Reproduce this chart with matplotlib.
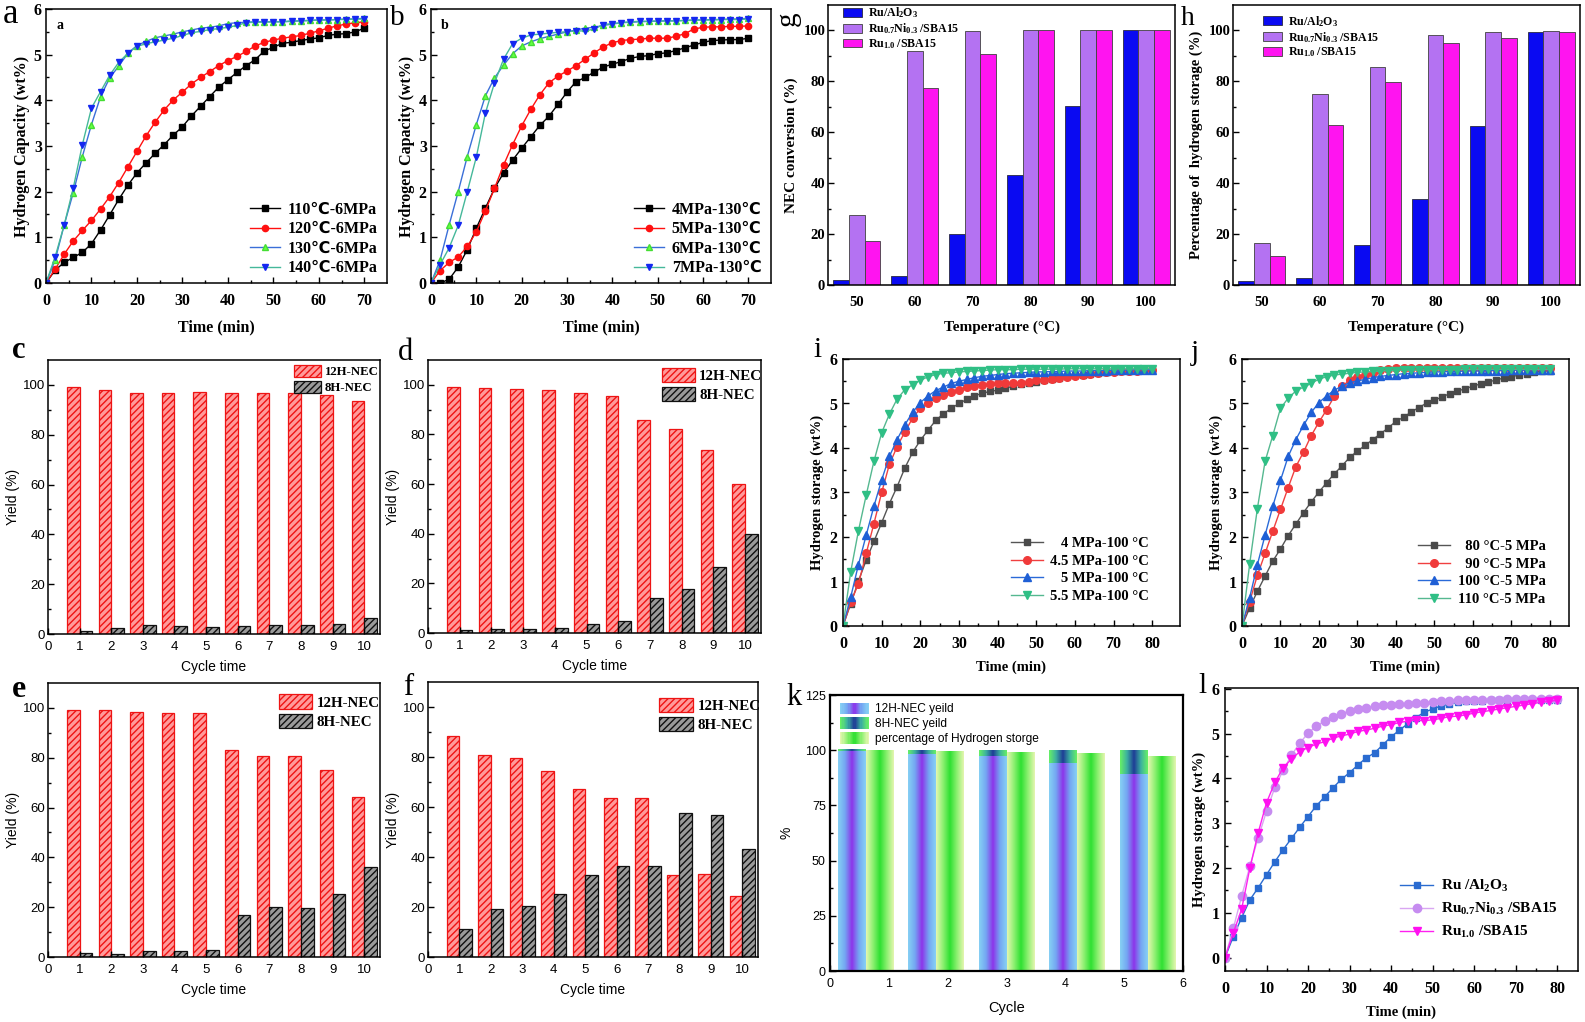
import numpy as np
import matplotlib
matplotlib.use('Agg')
import matplotlib.pyplot as plt
from matplotlib.patches import Patch, Rectangle
from matplotlib.legend_handler import HandlerBase
from matplotlib.colors import LinearSegmentedColormap

plt.rcParams['mathtext.fontset'] = 'custom'
plt.rcParams['mathtext.rm'] = 'Liberation Serif:bold'
plt.rcParams['mathtext.it'] = 'Liberation Serif:bold'
plt.rcParams['mathtext.bf'] = 'Liberation Serif:bold'
plt.rcParams['hatch.linewidth'] = 1.0

SERIF = ['Liberation Serif', 'DejaVu Sans']
SANS = ['Liberation Sans', 'DejaVu Sans']

# ---------------- data ----------------
t70 = np.arange(0, 72, 2)
t80 = np.arange(0, 82, 2)

a_labels = ['110\u2103-6MPa', '120\u2103-6MPa', '130\u2103-6MPa', '140\u2103-6MPa']
a_110 = [0, 0.28, 0.45, 0.56, 0.67, 0.86, 1.16, 1.49, 1.83, 2.14, 2.41, 2.63, 2.84, 3.03, 3.24, 3.42, 3.66, 3.87,
         4.08, 4.29, 4.45, 4.61, 4.76, 4.89, 5.08, 5.16, 5.25, 5.27, 5.31, 5.34, 5.37, 5.42, 5.45, 5.46, 5.5, 5.58]
a_120 = [0, 0.3, 0.63, 0.92, 1.15, 1.37, 1.62, 1.89, 2.2, 2.54, 2.88, 3.22, 3.52, 3.79, 4.01, 4.18, 4.36, 4.5,
         4.63, 4.76, 4.87, 4.96, 5.07, 5.19, 5.27, 5.32, 5.36, 5.39, 5.42, 5.47, 5.52, 5.58, 5.63, 5.67, 5.7, 5.72]
a_130 = [0, 0.5, 1.27, 1.98, 2.77, 3.47, 4.08, 4.49, 4.75, 5.03, 5.2, 5.29, 5.37, 5.41, 5.45, 5.5, 5.54, 5.58,
         5.6, 5.63, 5.68, 5.7, 5.71, 5.72, 5.72, 5.72, 5.72, 5.73, 5.74, 5.75, 5.76, 5.76, 5.77, 5.78, 5.78, 5.8]
a_140 = [0, 0.57, 1.27, 2.08, 3.03, 3.83, 4.19, 4.55, 4.83, 5.03, 5.18, 5.24, 5.28, 5.32, 5.36, 5.42, 5.48, 5.51,
         5.55, 5.57, 5.6, 5.64, 5.7, 5.71, 5.71, 5.72, 5.72, 5.74, 5.74, 5.75, 5.76, 5.76, 5.77, 5.77, 5.78, 5.78]

b_labels = ['4MPa-130\u2103', '5MPa-130\u2103', '6MPa-130\u2103', '7MPa-130\u2103']
b_4 = [0, 0.0, 0.08, 0.35, 0.73, 1.2, 1.64, 2.07, 2.41, 2.69, 2.95, 3.2, 3.45, 3.65, 3.91, 4.18, 4.41, 4.5,
       4.62, 4.73, 4.79, 4.85, 4.92, 4.96, 4.98, 5.02, 5.04, 5.09, 5.15, 5.21, 5.27, 5.31, 5.32, 5.33, 5.33, 5.36]
b_5 = [0, 0.27, 0.45, 0.57, 0.8, 1.12, 1.58, 2.07, 2.58, 3.03, 3.44, 3.8, 4.12, 4.38, 4.53, 4.64, 4.76, 4.9,
       5.04, 5.17, 5.26, 5.31, 5.33, 5.34, 5.36, 5.36, 5.36, 5.4, 5.46, 5.56, 5.6, 5.61, 5.61, 5.62, 5.62, 5.63]
b_6 = [0, 0.5, 1.27, 2.0, 2.77, 3.47, 4.1, 4.49, 4.77, 5.02, 5.19, 5.28, 5.35, 5.4, 5.45, 5.5, 5.54, 5.58,
       5.6, 5.64, 5.67, 5.7, 5.71, 5.72, 5.73, 5.73, 5.74, 5.74, 5.75, 5.76, 5.76, 5.77, 5.77, 5.78, 5.78, 5.8]
b_7 = [0, 0.4, 0.77, 1.26, 2.0, 2.76, 3.72, 4.38, 4.9, 5.24, 5.36, 5.43, 5.45, 5.47, 5.49, 5.5, 5.52, 5.52,
       5.56, 5.66, 5.68, 5.7, 5.72, 5.73, 5.73, 5.74, 5.74, 5.74, 5.75, 5.75, 5.76, 5.76, 5.77, 5.77, 5.77, 5.78]

temps = [50, 60, 70, 80, 90, 100]
cat_labels = ['Ru/Al$_{2}$O$_{3}$', 'Ru$_{0.7}$Ni$_{0.3}$ /SBA15', 'Ru$_{1.0}$ /SBA15']
g_al = [1.8, 3.7, 20.0, 43.4, 70.2, 100.0]
g_runi = [27.6, 91.9, 99.6, 100.0, 100.0, 100.0]
g_ru = [17.4, 77.4, 90.7, 100.0, 100.0, 100.0]
h_al = [1.6, 2.9, 15.7, 33.7, 62.4, 99.2]
h_runi = [16.6, 75.2, 85.6, 98.4, 99.3, 99.6]
h_ru = [11.4, 62.8, 79.8, 95.0, 97.2, 99.2]

cycles = np.arange(1, 11)
c_12h = [99.1, 97.9, 96.7, 96.9, 97.3, 96.9, 96.7, 96.7, 95.9, 93.6]
c_8h = [1.3, 2.4, 3.5, 3.2, 2.7, 3.1, 3.6, 3.5, 4.1, 6.6]
d_12h = [99.1, 98.9, 98.5, 97.9, 96.8, 95.3, 86.0, 82.3, 73.6, 60.1]
d_8h = [1.3, 1.5, 1.7, 2.1, 3.5, 5.0, 14.1, 17.7, 26.7, 39.9]
e_12h = [99.1, 99.2, 98.3, 98.1, 98.0, 83.3, 80.6, 80.6, 75.0, 64.3]
e_8h = [1.5, 1.3, 2.3, 2.5, 2.7, 17.0, 19.9, 19.8, 25.4, 36.1]
f_12h = [88.6, 81.0, 79.8, 74.6, 67.2, 63.8, 63.6, 32.9, 33.4, 24.5]
f_8h = [11.4, 19.1, 20.3, 25.4, 32.8, 36.4, 36.6, 57.8, 57.0, 43.2]

i_labels = ['   4 MPa-100 \u00b0C', '4.5 MPa-100 \u00b0C', '   5 MPa-100 \u00b0C', '5.5 MPa-100 \u00b0C']
i_40 = [0, 0.5, 1.01, 1.48, 1.9, 2.32, 2.75, 3.13, 3.55, 3.9, 4.17, 4.4, 4.62, 4.77, 4.89, 5.0, 5.09, 5.17, 5.23,
        5.27, 5.3, 5.34, 5.39, 5.43, 5.46, 5.49, 5.52, 5.55, 5.58, 5.61, 5.63, 5.65, 5.67, 5.69, 5.7, 5.72, 5.73,
        5.74, 5.75, 5.76, 5.77]
i_45 = [0, 0.53, 0.95, 1.63, 2.3, 3.0, 3.63, 4.03, 4.36, 4.67, 4.89, 5.01, 5.12, 5.18, 5.26, 5.31, 5.36, 5.4, 5.42,
        5.44, 5.45, 5.46, 5.47, 5.47, 5.48, 5.52, 5.53, 5.54, 5.57, 5.59, 5.61, 5.63, 5.66, 5.68, 5.7, 5.71, 5.72,
        5.72, 5.74, 5.75, 5.76]
i_50 = [0, 0.65, 1.38, 2.04, 2.69, 3.28, 3.81, 4.19, 4.52, 4.8, 5.02, 5.17, 5.29, 5.37, 5.45, 5.5, 5.54, 5.58, 5.61,
        5.63, 5.65, 5.67, 5.68, 5.69, 5.7, 5.71, 5.71, 5.72, 5.72, 5.73, 5.73, 5.73, 5.74, 5.74, 5.74, 5.75, 5.75,
        5.75, 5.76, 5.76, 5.76]
i_55 = [0, 1.22, 2.14, 2.94, 3.7, 4.34, 4.76, 5.1, 5.31, 5.42, 5.52, 5.6, 5.65, 5.68, 5.69, 5.71, 5.72, 5.73, 5.74,
        5.75, 5.76, 5.76, 5.76, 5.77, 5.77, 5.77, 5.77, 5.77, 5.77, 5.78, 5.78, 5.78, 5.78, 5.78, 5.78, 5.78, 5.78,
        5.78, 5.78, 5.78, 5.78]

j_labels = ['  80 \u00b0C-5 MPa', '  90 \u00b0C-5 MPa', '100 \u00b0C-5 MPa', '110 \u00b0C-5 MPa']
j_80 = [0, 0.41, 0.78, 1.12, 1.46, 1.73, 2.03, 2.29, 2.55, 2.79, 3.01, 3.22, 3.42, 3.6, 3.79, 3.93, 4.06, 4.19,
        4.32, 4.45, 4.6, 4.69, 4.81, 4.91, 5.01, 5.07, 5.15, 5.22, 5.28, 5.33, 5.39, 5.44, 5.48, 5.53, 5.57, 5.6,
        5.64, 5.67, 5.7, 5.72, 5.74]
j_90 = [0, 0.55, 1.14, 1.63, 2.13, 2.62, 3.11, 3.58, 3.91, 4.28, 4.58, 4.86, 5.16, 5.39, 5.52, 5.6, 5.64, 5.69,
        5.76, 5.78, 5.79, 5.79, 5.79, 5.79, 5.79, 5.79, 5.79, 5.79, 5.79, 5.79, 5.79, 5.79, 5.79, 5.79, 5.79, 5.79,
        5.79, 5.79, 5.79, 5.79, 5.79]
j_100 = [0, 0.64, 1.38, 2.04, 2.69, 3.27, 3.81, 4.19, 4.51, 4.8, 5.02, 5.17, 5.3, 5.39, 5.47, 5.51, 5.54, 5.58,
         5.61, 5.63, 5.65, 5.67, 5.68, 5.69, 5.7, 5.71, 5.71, 5.72, 5.72, 5.73, 5.73, 5.73, 5.74, 5.74, 5.74, 5.75,
         5.75, 5.75, 5.76, 5.76, 5.76]
j_110 = [0, 1.4, 2.64, 3.7, 4.28, 4.89, 5.12, 5.28, 5.37, 5.45, 5.55, 5.6, 5.64, 5.66, 5.68, 5.7, 5.71, 5.72,
         5.73, 5.74, 5.74, 5.75, 5.75, 5.75, 5.76, 5.76, 5.76, 5.76, 5.76, 5.77, 5.77, 5.77, 5.77, 5.77, 5.77,
         5.77, 5.77, 5.77, 5.77, 5.77, 5.77]

k_cycles = [1, 2, 3, 4, 5]
k_labels = ['12H-NEC yeild', '8H-NEC yeild', 'percentage of Hydrogen storge']
k_12h = [99.5, 98.2, 97.4, 94.3, 89.3]
k_8h = [0.5, 1.8, 2.6, 5.7, 10.7]
k_storage = [100.0, 99.5, 99.1, 98.3, 97.0]

l_labels = ['Ru /Al$_{2}$O$_{3}$', 'Ru$_{0.7}$Ni$_{0.3}$ /SBA15', 'Ru$_{1.0}$ /SBA15']
l_al = [0, 0.47, 0.89, 1.29, 1.56, 1.85, 2.14, 2.41, 2.66, 2.91, 3.15, 3.39, 3.59, 3.79, 3.98, 4.13, 4.3, 4.46,
        4.57, 4.75, 4.93, 5.08, 5.22, 5.36, 5.48, 5.55, 5.62, 5.66, 5.7, 5.74, 5.74, 5.74, 5.75, 5.75, 5.75, 5.75,
        5.75, 5.75, 5.75, 5.75, 5.75]
l_runi = [0, 0.65, 1.37, 2.04, 2.68, 3.27, 3.8, 4.18, 4.52, 4.79, 5.01, 5.17, 5.28, 5.37, 5.45, 5.5, 5.54, 5.58,
          5.61, 5.63, 5.65, 5.66, 5.67, 5.68, 5.69, 5.71, 5.73, 5.74, 5.75, 5.75, 5.76, 5.76, 5.76, 5.76, 5.77,
          5.77, 5.77, 5.77, 5.77, 5.77, 5.77]
l_ru = [0, 0.55, 1.08, 2.0, 2.79, 3.46, 3.91, 4.24, 4.43, 4.6, 4.69, 4.77, 4.82, 4.9, 4.95, 4.99, 5.05, 5.08,
        5.12, 5.17, 5.2, 5.25, 5.28, 5.3, 5.29, 5.31, 5.34, 5.38, 5.39, 5.42, 5.46, 5.49, 5.52, 5.55, 5.58, 5.61,
        5.64, 5.67, 5.7, 5.72, 5.75]

# ---------------- figure ----------------
W, H = 1585, 1022
fig = plt.figure(figsize=(W / 100, H / 100), dpi=100)


def add_ax(x0, x1, y0, y1):
    return fig.add_axes([x0 / W, 1 - y1 / H, (x1 - x0) / W, (y1 - y0) / H])


def fmt(v):
    return ('%g' % v)


def set_ticks(ax, xt, yt, fam, weight, size, xminor=None, yminor=None, direction='in', length=4.0, xl=None,
              xpad=3, ypad=3):
    ax.set_xticks(xt, xl if xl is not None else [fmt(v) for v in xt], fontfamily=fam, fontweight=weight,
                  fontsize=size)
    ax.set_yticks(yt, [fmt(v) for v in yt], fontfamily=fam, fontweight=weight, fontsize=size)
    if xminor is not None:
        ax.set_xticks(xminor, minor=True)
    if yminor is not None:
        ax.set_yticks(yminor, minor=True)
    ax.tick_params(which='both', direction=direction, width=1.0)
    ax.tick_params(which='major', length=length)
    ax.tick_params(which='minor', length=length * 0.6)
    ax.tick_params(axis='x', which='major', pad=xpad)
    ax.tick_params(axis='y', which='major', pad=ypad)
    for s in ax.spines.values():
        s.set_linewidth(1.1)


def plabel(s, x, y, size, weight='normal', rot=0, ha='left', va='baseline'):
    fig.text(x / W, 1 - y / H, s, fontsize=size, family=SERIF, weight=weight, rotation=rot, ha=ha, va=va)


BOLDSERIF = dict(family=SERIF, weight='bold')

# ---------- panels a, b ----------
def kinetics_ab(ax, series, labels, inner):
    styles = [dict(color='black', marker='s', mfc='black', mec='black'),
              dict(color='#ff1010', marker='o', mfc='#ff1010', mec='#ff1010'),
              dict(color='#3a6fd8', marker='^', mfc='#66ff44', mec='#44dd33'),
              dict(color='#45b89a', marker='v', mfc='#1428f0', mec='#1428f0')]
    for y, lab, st in zip(series, labels, styles):
        ax.plot(t70, y, lw=1.0, ms=4.5, label=lab, **st)
    ax.set_xlim(0, 75)
    ax.set_ylim(0, 6)
    set_ticks(ax, [0, 10, 20, 30, 40, 50, 60, 70], [0, 1, 2, 3, 4, 5, 6], SERIF, 'bold', 11.5,
              xminor=np.arange(5, 75, 10), yminor=np.arange(0.5, 6, 1.0), xpad=7, ypad=3)
    ax.set_xlabel('Time (min)', fontsize=11.5, labelpad=8, **BOLDSERIF)
    ax.set_ylabel('Hydrogen Capacity (wt%)', fontsize=11.5, labelpad=3, **BOLDSERIF)
    ax.legend(loc='lower right', bbox_to_anchor=(1.0, -0.01), frameon=False,
              prop=dict(family=SERIF, weight='bold', size=11.5), handlelength=1.9, labelspacing=0.22,
              handletextpad=0.45, borderaxespad=0.2)
    ax.text(0.03, 0.965, inner, transform=ax.transAxes, ha='left', va='top', fontsize=10, **BOLDSERIF)


ax_a = add_ax(46, 387, 9, 283)
kinetics_ab(ax_a, [a_110, a_120, a_130, a_140], a_labels, 'a')
ax_b = add_ax(431, 771, 9, 283)
kinetics_ab(ax_b, [b_4, b_5, b_6, b_7], b_labels, 'b')

# ---------- panels g, h ----------
def conv_bars(ax, al, runi, ru, ylabel, ylsize, legend_anchor):
    x = np.arange(len(temps))
    w = 0.27
    ax.bar(x - w, al, w, color='#0a0af2', edgecolor='#2a2a40', lw=0.6, label=cat_labels[0])
    ax.bar(x, runi, w, color='#b472f2', edgecolor='#404040', lw=0.6, label=cat_labels[1])
    ax.bar(x + w, ru, w, color='#ff14f0', edgecolor='#404040', lw=0.6, label=cat_labels[2])
    ax.set_xlim(-0.5, 5.5)
    ax.set_ylim(0, 110)
    set_ticks(ax, list(x), [0, 20, 40, 60, 80, 100], SERIF, 'bold', 10.5, yminor=np.arange(10, 110, 20),
              xl=[str(t) for t in temps], xpad=8, ypad=2)
    ax.tick_params(axis='x', which='major', length=0)
    ax.set_xlabel('Temperature (\u00b0C)', fontsize=11, labelpad=8, **BOLDSERIF)
    ax.set_ylabel(ylabel, fontsize=ylsize, labelpad=4, **BOLDSERIF)
    ax.legend(loc='upper left', bbox_to_anchor=legend_anchor, frameon=False,
              prop=dict(family=SERIF, weight='bold', size=8.6), handlelength=1.6, handleheight=0.75,
              labelspacing=0.08, handletextpad=0.45, borderaxespad=0.0)


ax_g = add_ax(828, 1175, 5, 285)
conv_bars(ax_g, g_al, g_runi, g_ru, 'NEC conversion (%)', 11, (0.03, 1.015))
ax_h = add_ax(1233, 1580, 5, 285)
conv_bars(ax_h, h_al, h_runi, h_ru, 'Percentage of  hydrogen storage (%)', 10.5, (0.073, 0.985))

# ---------- panels c, d, e, f ----------
def yield_panel(ax, red, black, fs, anchor, hl, hh):
    ax.bar(cycles - 0.2, red, 0.4, facecolor='#ff9a9a', edgecolor='#ee1414', hatch='/////', lw=0.9,
           label='12H-NEC')
    ax.bar(cycles + 0.2, black, 0.4, facecolor='#9a9a9a', edgecolor='#101010', hatch='/////', lw=0.9,
           label='8H-NEC')
    ax.set_xlim(0, 10.5)
    ax.set_ylim(0, 110)
    set_ticks(ax, list(range(0, 11)), [0, 20, 40, 60, 80, 100], SANS, 'normal', 9.5,
              yminor=np.arange(10, 110, 20), direction='in', length=4, xpad=5, ypad=2)
    ax.set_xlabel('Cycle time', fontsize=10, family=SANS, labelpad=5)
    ax.set_ylabel('Yield (%)', fontsize=10, family=SANS, labelpad=2)
    ax.legend(loc='upper right', bbox_to_anchor=anchor, frameon=False,
              prop=dict(family=SERIF, weight='bold', size=fs), handlelength=hl, handleheight=hh,
              labelspacing=0.25, handletextpad=0.3, borderaxespad=0.0)


ax_c = add_ax(48, 380, 360, 634)
yield_panel(ax_c, c_12h, c_8h, 9.2, (1.012, 1.0), 2.1, 1.0)
ax_d = add_ax(428, 761, 360, 633)
yield_panel(ax_d, d_12h, d_8h, 10.8, (1.022, 0.993), 2.2, 1.1)
ax_e = add_ax(48, 380, 683, 957)
yield_panel(ax_e, e_12h, e_8h, 10.8, (1.017, 0.98), 2.2, 1.1)
ax_f = add_ax(428, 758, 682, 957)
yield_panel(ax_f, f_12h, f_8h, 10.8, (1.027, 0.964), 2.3, 1.1)

# ---------- panels i, j, l ----------
def storage_curves(ax, series, labels, styles, xlim, ylim, anchor, fs, ls):
    for y, lab, st in zip(series, labels, styles):
        ax.plot(t80, y, lw=1.0, label=lab, **st)
    ax.set_xlim(*xlim)
    ax.set_ylim(*ylim)
    set_ticks(ax, list(range(0, 90, 10)), [0, 1, 2, 3, 4, 5, 6], SERIF, 'bold', 11.5,
              xminor=np.arange(5, 85, 10), yminor=np.arange(0.5, 6, 1.0), xpad=7, ypad=4)
    ax.set_xlabel('Time (min)', fontsize=10.5, labelpad=6, **BOLDSERIF)
    ax.set_ylabel('Hydrogen storage (wt%)', fontsize=10.5, labelpad=4, **BOLDSERIF)
    ax.legend(loc='upper right', bbox_to_anchor=anchor, frameon=False,
              prop=dict(family=SERIF, weight='bold', size=fs), handlelength=2.2, labelspacing=ls,
              handletextpad=0.5, borderaxespad=0.0)


ij_styles = [dict(color='#555555', marker='s', ms=5, mfc='#4a4a4a', mec='#4a4a4a'),
             dict(color='#f04040', marker='o', ms=5.5, mfc='#f03a3a', mec='#f03a3a'),
             dict(color='#2a6ad8', marker='^', ms=5.5, mfc='#1f5fd5', mec='#1f5fd5'),
             dict(color='#55b890', marker='v', ms=5.5, mfc='#2fbf85', mec='#2fbf85')]

ax_i = add_ax(843, 1180, 359, 626)
storage_curves(ax_i, [i_40, i_45, i_50, i_55], i_labels, ij_styles, (0, 87.2), (0, 6), (0.925, 0.355), 10.5, 0.3)
ax_j = add_ax(1242, 1569, 359, 626)
storage_curves(ax_j, [j_80, j_90, j_100, j_110], j_labels, ij_styles, (0, 85), (0, 6), (0.946, 0.344), 10.5, 0.3)

l_styles = [dict(color='#2a6bd0', marker='s', ms=5, mfc='#2a6bd0', mec='#2a6bd0'),
            dict(color='#d9a6f2', marker='o', ms=6, mfc='#c68cf0', mec='#c68cf0'),
            dict(color='#ff20f0', marker='v', ms=6, mfc='#ff10f0', mec='#ff10f0')]
ax_l = add_ax(1225, 1578, 688, 971)
storage_curves(ax_l, [l_al, l_runi, l_ru], l_labels, l_styles, (0, 85), (-0.3, 6.02), (0.96, 0.35), 11, 0.45)

# ---------- panel k ----------
cm12 = LinearSegmentedColormap.from_list('c12', ['#86d0f4', '#74a6f2', '#8c34ea', '#74a6f2', '#86d0f4'])
cm8 = LinearSegmentedColormap.from_list('c8', ['#66f066', '#3cb0a0', '#1e3c96', '#3cb0a0', '#66f066'])
cmS = LinearSegmentedColormap.from_list('cS', ['#e4f6b0', '#8cf070', '#2ee032', '#8cf070', '#e4f6b0'])


def grad_fill(ax, patches, cmap):
    grad = np.linspace(0, 1, 80).reshape(1, -1)
    for p in patches:
        x0, y0, w, h = p.get_x(), p.get_y(), p.get_width(), p.get_height()
        ax.imshow(grad, cmap=cmap, extent=(x0, x0 + w, y0, y0 + h), aspect='auto',
                  interpolation='bilinear', zorder=2)
        p.set_facecolor('none')
        p.set_edgecolor('none')


class GradHandler(HandlerBase):
    def __init__(self, cmap):
        super().__init__()
        self.cmap = cmap

    def create_artists(self, legend, orig_handle, xdescent, ydescent, width, height, fontsize, trans):
        n = 24
        arts = []
        for j in range(n):
            r = Rectangle((-xdescent + j * width / n, -ydescent), width / n * 1.05, height,
                          facecolor=self.cmap(j / (n - 1)), edgecolor='none', transform=trans)
            arts.append(r)
        return arts


ax_k = add_ax(830, 1183, 695, 971)
kx = np.array(k_cycles, dtype=float)
group_left = 0.135 + (kx - 1) * 1.197
bw = 0.475
b12 = ax_k.bar(group_left, k_12h, bw, align='edge')
b8 = ax_k.bar(group_left, k_8h, bw, bottom=k_12h, align='edge')
bS = ax_k.bar(group_left + bw, k_storage, bw, align='edge')
grad_fill(ax_k, b12.patches, cm12)
grad_fill(ax_k, b8.patches, cm8)
grad_fill(ax_k, bS.patches, cmS)
ax_k.set_xlim(0, 6)
ax_k.set_ylim(0, 125)
set_ticks(ax_k, [0, 1, 2, 3, 4, 5, 6], [0, 25, 50, 75, 100, 125], SANS, 'normal', 9,
          yminor=np.arange(12.5, 125, 25), length=4, xpad=5)
for s in ax_k.spines.values():
    s.set_linewidth(1.6)
ax_k.set_xlabel('Cycle', fontsize=10.5, family=SANS, labelpad=8)
ax_k.set_ylabel('%', fontsize=10, family=SANS, labelpad=8)
hk = [Patch(label=k_labels[0]), Patch(label=k_labels[1]), Patch(label=k_labels[2])]
ax_k.legend(handles=hk, labels=k_labels, loc='upper left', bbox_to_anchor=(0.015, 0.99), frameon=False,
            handler_map={hk[0]: GradHandler(cm12), hk[1]: GradHandler(cm8), hk[2]: GradHandler(cmS)},
            prop=dict(family=SANS, size=8.6), handlelength=2.4, handleheight=1.1, labelspacing=0.18,
            handletextpad=0.5, borderaxespad=0.0)

# ---------- panel letters ----------
plabel('a', 3, 23, 25)
plabel('b', 390, 25, 21)
plabel('g', 788, 19, 21, rot=90, ha='center', va='center')
plabel('h', 1181, 25, 20)
plabel('c', 12, 358, 22, weight='bold')
plabel('d', 398, 360, 22)
plabel('e', 12, 697, 23, weight='bold')
plabel('f', 403, 695, 22)
plabel('i', 813, 357, 21)
plabel('j', 1191, 360, 21)
plabel('k', 786, 705, 22)
plabel('l', 1198, 693, 21)

fig.savefig('out.png', dpi=100, facecolor='white')
